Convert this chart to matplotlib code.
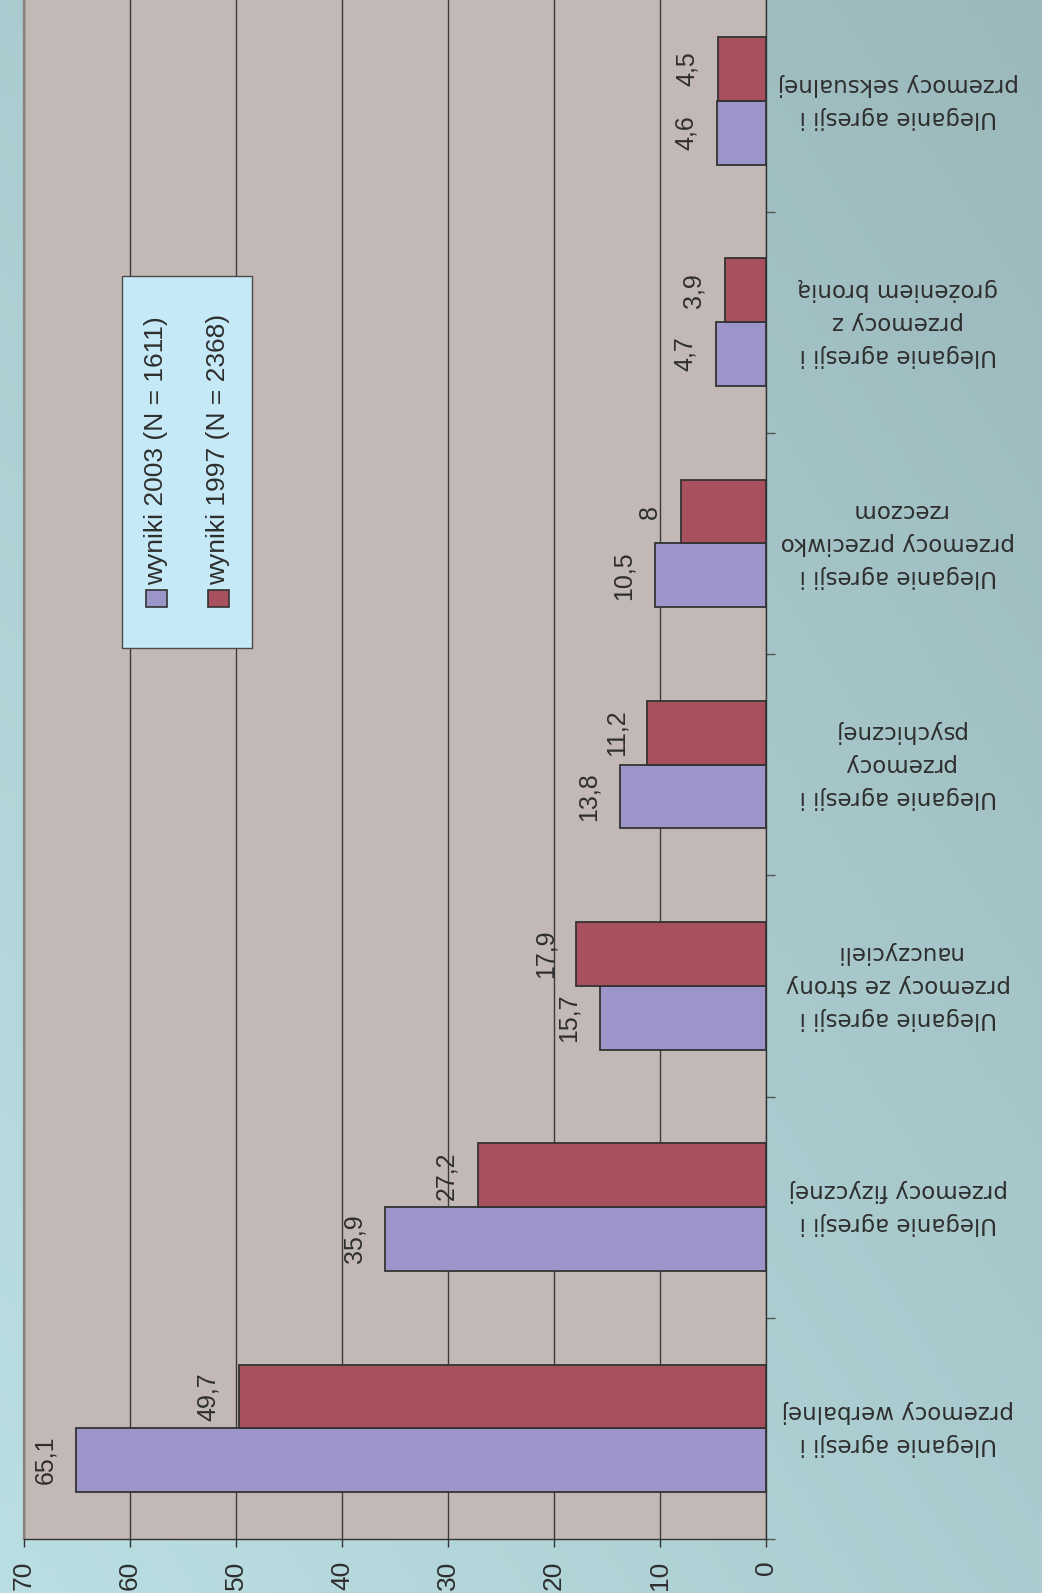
import numpy as np
import matplotlib
matplotlib.use("Agg")
import matplotlib.pyplot as plt
from matplotlib.patches import Rectangle
import matplotlib.transforms as mtransforms

# ---------------- data ----------------
categories = [
    "Uleganie agresji i\nprzemocy werbalnej",
    "Uleganie agresji i\nprzemocy fizycznej",
    "Uleganie agresji i\nprzemocy ze strony\nnauczycieli",
    "Uleganie agresji i\nprzemocy\npsychicznej",
    "Uleganie agresji i\nprzemocy przeciwko\nrzeczom",
    "Uleganie agresji i\nprzemocy z\ngrożeniem bronią",
    "Uleganie agresji i\nprzemocy seksualnej",
]
values_2003 = [65.1, 35.9, 15.7, 13.8, 10.5, 4.7, 4.6]
values_1997 = [49.7, 27.2, 17.9, 11.2, 8.0, 3.9, 4.5]
series_names = ["wyniki 2003 (N = 1611)", "wyniki 1997 (N = 2368)"]
value_ticks = [0, 10, 20, 30, 40, 50, 60, 70]

# ---------------- style ----------------
W, H = 1042, 1593
C2003 = "#9c95c9"
C1997 = "#a8505e"
PLOT_BG = "#c2b9b6"
TXT = "#2e2e2e"
NARROW = ["Liberation Sans Narrow", "Liberation Sans", "DejaVu Sans"]
SANS = ["Liberation Sans", "DejaVu Sans"]

fig = plt.figure(figsize=(W / 100, H / 100), dpi=100)

# gradient background
bg = fig.add_axes([0, 0, 1, 1], zorder=-10)
light = np.array([0xBA, 0xDF, 0xE3]) / 255
dark = np.array([0x9B, 0xB8, 0xBB]) / 255
xx, yy = np.meshgrid(np.linspace(0, 1, 200), np.linspace(0, 1, 300))
t = (xx + yy) / 2
img = light[None, None, :] * (1 - t[..., None]) + dark[None, None, :] * t[..., None]
bg.imshow(img, origin="lower", extent=[0, 1, 0, 1], aspect="auto")
bg.set_axis_off()

# main axes (pixel geometry)
left_px, right_px, bottom_px, top_px = 24, 766, 1539, 0
band = 221.25
ax = fig.add_axes([left_px / W, (H - bottom_px) / H,
                   (right_px - left_px) / W, (bottom_px - top_px) / H])
ax.set_facecolor(PLOT_BG)
ax.set_xlim(70, 0)
ax.set_ylim(-0.5, -0.5 + (bottom_px - top_px) / band)

n = len(categories)
y = np.arange(n)
bw = 0.288
ax.barh(y - bw / 2, values_2003, height=bw, color=C2003, edgecolor="#333333",
        linewidth=1.3, zorder=3)
ax.barh(y + bw / 2, values_1997, height=bw, color=C1997, edgecolor="#333333",
        linewidth=1.3, zorder=3)

def fmt(v):
    return f"{v:g}".replace(".", ",")

for yi, v in zip(y, values_2003):
    ax.annotate(fmt(v), xy=(v, yi - bw / 2), xytext=(-31, 0), textcoords="offset pixels",
                rotation=90, ha="center", va="center", fontsize=18, family=NARROW,
                color=TXT, zorder=4)
for yi, v in zip(y, values_1997):
    ax.annotate(fmt(v), xy=(v, yi + bw / 2), xytext=(-31, 0), textcoords="offset pixels",
                rotation=90, ha="center", va="center", fontsize=18, family=NARROW,
                color=TXT, zorder=4)

# value axis
ax.set_xticks(value_ticks)
ax.set_xticklabels([str(v) for v in value_ticks], rotation=90, fontsize=19,
                   family=NARROW, color=TXT)
ax.tick_params(axis="x", direction="out", length=5.5, width=1.0, color="#333333", pad=10)
ax.grid(axis="x", color="#3a3a3a", linewidth=1.0, zorder=1)
ax.set_axisbelow(True)

# category axis: ticks only at band boundaries on the right
ax.yaxis.tick_right()
ax.set_yticks([])
ax.set_yticks(np.arange(-0.5, n - 1, 1.0), minor=True)
ax.tick_params(axis="y", which="minor", direction="out", length=6.5, width=1.0,
               color="#555555", labelright=False)

ax.spines["top"].set_visible(False)
ax.spines["left"].set_color("#8c807b")
ax.spines["left"].set_linewidth(1.6)
ax.spines["right"].set_color("#333333")
ax.spines["right"].set_linewidth(1.0)
ax.spines["bottom"].set_color("#333333")
ax.spines["bottom"].set_linewidth(1.0)

# category labels (upside down, to the right of the plot)
trans = mtransforms.blended_transform_factory(fig.transFigure, ax.transData)
for yi, lab in zip(y, categories):
    ax.text(898 / W, yi, lab, transform=trans, rotation=180, ha="center", va="center",
            multialignment="center", fontsize=16.5, family=["DejaVu Sans"],
            linespacing=1.55, color=TXT, clip_on=False)

# legend (drawn manually, rotated)
fig.patches.append(Rectangle((122 / W, 1 - 648 / H), 130 / W, 372 / H,
                             transform=fig.transFigure, facecolor="#c6e9f7",
                             edgecolor="#4a4a4a", linewidth=1.0, zorder=5))
for xc, col, name in [(156, C2003, series_names[0]), (218, C1997, series_names[1])]:
    fig.patches.append(Rectangle(((xc - 10.5) / W, 1 - 607 / H), 21 / W, 17 / H,
                                 transform=fig.transFigure, facecolor=col,
                                 edgecolor="#333333", linewidth=1.2, zorder=6))
    fig.text(xc / W, 1 - 585 / H, name, rotation=90, ha="center", va="bottom",
             fontsize=19, family=SANS, color=TXT, zorder=7)

fig.savefig("out.png", dpi=100)
